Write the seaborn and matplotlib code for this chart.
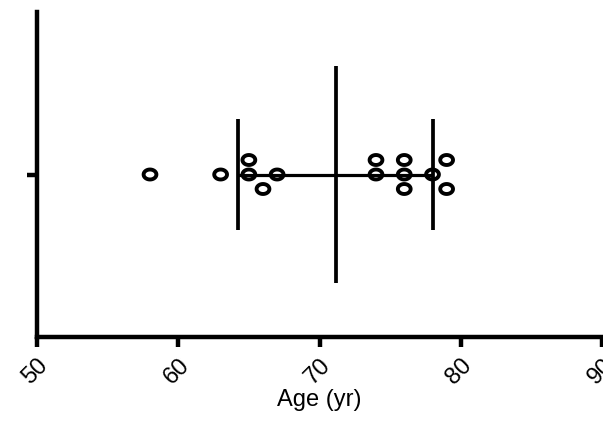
import matplotlib
matplotlib.use("Agg")
import matplotlib.pyplot as plt
from matplotlib.path import Path
import seaborn as sns
import numpy as np
import pandas as pd

ages = [58, 63, 65, 65, 66, 67, 74, 74, 76, 76, 76, 78, 79, 79]
x_ticks = [50, 60, 70, 80, 90]
x_label = "Age (yr)"

sns.set_style("ticks")
plt.rcParams["font.family"] = ["Liberation Sans", "DejaVu Sans"]
for k in ["text.color", "axes.labelcolor", "xtick.color", "ytick.color", "axes.edgecolor"]:
    plt.rcParams[k] = "black"

# Prism-like lane stacking: each point goes to the first lane (0, +1, -1, +2, ...)
# with no other point closer than 1.5 units on the value axis.
def lanes_for(values, gap=1.5):
    order = np.argsort(values, kind="stable")
    lanes = np.zeros(len(values), dtype=int)
    placed = []
    candidates = [0, 1, -1, 2, -2, 3, -3]
    for i in order:
        v = values[i]
        for lane in candidates:
            if all(not (l == lane and abs(v - pv) < gap) for pv, l in placed):
                lanes[i] = lane
                placed.append((v, lane))
                break
    return lanes

arr = np.array(ages, dtype=float)
lane = lanes_for(arr)
lane_step = 14.5 / 325.0
df = pd.DataFrame({"age": arr, "pos": lane * lane_step})

fig = plt.figure(figsize=(6.03, 4.21), dpi=100)
ax = fig.add_axes([37 / 603, 84 / 421, 565 / 603, 325 / 421])

t = np.linspace(0, 2 * np.pi, 60)
ellipse = Path(np.column_stack([np.cos(t), 0.78 * np.sin(t)]), closed=True)

mean = arr.mean()
sd = arr.std(ddof=1)
ax.vlines(mean, -0.335, 0.335, color="black", lw=2.7, zorder=1)
ax.vlines([mean - sd, mean + sd], -0.172, 0.172, color="black", lw=2.7, zorder=1)
ax.hlines(0, mean - sd, mean + sd, color="black", lw=2.3, zorder=1)

sns.scatterplot(data=df, x="age", y="pos", ax=ax, marker=ellipse, s=9.2 ** 2,
                facecolor="none", edgecolor="black", linewidth=2.8, zorder=3,
                legend=False)
for c in ax.collections:
    if c.get_offsets().shape[0] == len(ages):
        c.set_facecolor("none")
        c.set_edgecolor("black")
        c.set_linewidth(2.8)

ax.set_xlim(x_ticks[0], x_ticks[-1])
ax.set_ylim(-0.5, 0.5)
ax.set_xticks(x_ticks)
ax.set_xticklabels([str(t) for t in x_ticks], rotation=45, ha="right",
                   rotation_mode="anchor", fontsize=17)
ax.set_yticks([0])
ax.set_yticklabels([""])
ax.set_ylabel("")
ax.set_xlabel(x_label, fontsize=17, labelpad=0)

for s in ["top", "right"]:
    ax.spines[s].set_visible(False)
for s in ["left", "bottom"]:
    ax.spines[s].set_linewidth(3.2)
ax.tick_params(axis="both", width=3.2, length=7.5, color="black", pad=5)

fig.savefig("out.png", dpi=100)
